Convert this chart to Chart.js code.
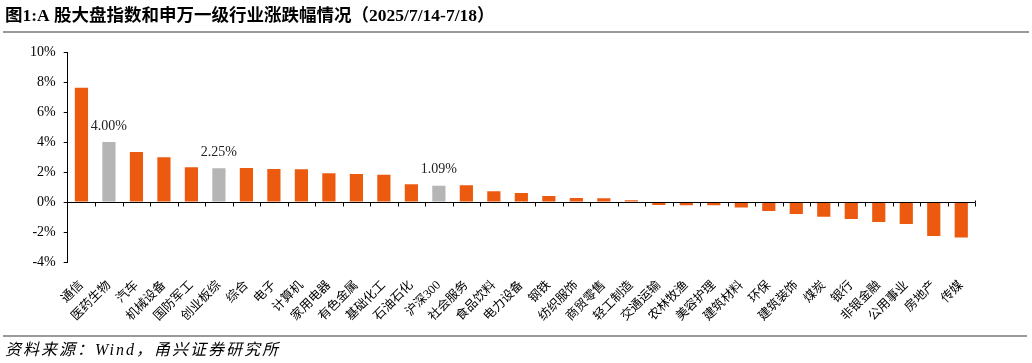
<!DOCTYPE html>
<html>
<head>
<meta charset="utf-8">
<script src="https://cdn.jsdelivr.net/npm/chart.js@4.4.1/dist/chart.umd.min.js"></script>
<style>
  html, body { margin: 0; padding: 0; background: #fff; }
  #wrap { position: relative; width: 1032px; height: 363px; }
  canvas { display: block; }
</style>
</head>
<body>
<div id="wrap"><canvas id="c" width="1032" height="363"></canvas></div>
<script>
const categories = ['通信','医药生物','汽车','机械设备','国防军工','创业板综','综合','电子','计算机','家用电器','有色金属','基础化工','石油石化','沪深300','社会服务','食品饮料','电力设备','钢铁','纺织服饰','商贸零售','轻工制造','交通运输','农林牧渔','美容护理','建筑材料','环保','建筑装饰','煤炭','银行','非银金融','公用事业','房地产','传媒'];
const changes = [7.62, 4.00, 3.33, 2.98, 2.31, 2.25, 2.27, 2.20, 2.18, 1.91, 1.87, 1.82, 1.18, 1.09, 1.11, 0.72, 0.60, 0.40, 0.27, 0.25, 0.11, -0.20, -0.22, -0.22, -0.36, -0.60, -0.80, -0.98, -1.13, -1.33, -1.47, -2.27, -2.36];
const indexCategories = ['医药生物','创业板综','沪深300'];
const yTicks = [-4, -2, 0, 2, 4, 6, 8, 10];
const titleText = '图1:A 股大盘指数和申万一级行业涨跌幅情况（2025/7/14-7/18）';
const sourceText = '资料来源：Wind，甬兴证券研究所';

const ORANGE = '#EC5A10';
const GREY = '#B5B5B5';
const SERIF = '"Liberation Serif", "Times New Roman", "Noto Sans CJK SC", serif';
const CJK = '"Liberation Serif", "Noto Sans CJK SC", sans-serif';

const colors = categories.map(c => indexCategories.includes(c) ? GREY : ORANGE);

const decorPlugin = {
  id: 'decor',
  afterDatasetsDraw(chart) {
    const ctx = chart.ctx;
    const y = chart.scales.y;
    const area = chart.chartArea;
    const y0 = Math.round(y.getPixelForValue(0)) + 0.5;
    ctx.save();
    ctx.strokeStyle = '#000';
    ctx.lineWidth = 1;
    ctx.beginPath();
    ctx.moveTo(area.left, y0);
    ctx.lineTo(area.right, y0);
    ctx.stroke();
    const n = categories.length;
    const step = (area.right - area.left) / n;
    ctx.beginPath();
    for (let i = 1; i <= n; i++) {
      const px = Math.round(area.left + step * i) + 0.5;
      ctx.moveTo(px, y0);
      ctx.lineTo(px, y0 + 4);
      if (i === n) { ctx.moveTo(px, y0 - 2); ctx.lineTo(px, y0); }
    }
    ctx.stroke();
    ctx.fillStyle = '#222';
    ctx.font = '14px ' + SERIF;
    ctx.textAlign = 'center';
    ctx.textBaseline = 'middle';
    const meta = chart.getDatasetMeta(0);
    categories.forEach((c, i) => {
      if (!indexCategories.includes(c)) return;
      const bar = meta.data[i];
      ctx.fillText(changes[i].toFixed(2) + '%', bar.x, bar.y - 16);
    });
    ctx.restore();
  },
  afterDraw(chart) {
    const ctx = chart.ctx;
    ctx.save();
    ctx.fillStyle = '#000';
    ctx.font = 'bold 17.5px ' + CJK;
    ctx.textAlign = 'left';
    ctx.textBaseline = 'middle';
    ctx.fillText(titleText, 5, 16);
    ctx.strokeStyle = '#9a9a9a';
    ctx.lineWidth = 2;
    ctx.beginPath();
    ctx.moveTo(3, 32); ctx.lineTo(1029, 32);
    ctx.moveTo(3, 336); ctx.lineTo(1027, 336);
    ctx.stroke();
    ctx.font = 'italic 16px ' + CJK;
    ctx.letterSpacing = '2px';
    ctx.fillStyle = '#000';
    ctx.fillText(sourceText, 5, 351);
    ctx.restore();
  }
};

new Chart(document.getElementById('c'), {
  type: 'bar',
  data: {
    labels: categories,
    datasets: [{
      data: changes,
      backgroundColor: colors,
      borderWidth: 0,
      categoryPercentage: 1.0,
      barPercentage: 0.48
    }]
  },
  options: {
    responsive: false,
    animation: false,
    devicePixelRatio: 1,
    layout: { padding: { top: 52, right: 57, left: 0, bottom: 0 } },
    plugins: { legend: { display: false }, tooltip: { enabled: false } },
    scales: {
      x: {
        grid: { display: false },
        border: { display: false },
        ticks: {
          autoSkip: false, minRotation: 45, maxRotation: 45,
          padding: 8, color: '#000',
          font: { family: CJK, size: 12.5 }
        },
        afterFit(scale) { scale.height = 101; }
      },
      y: {
        min: -4, max: 10,
        afterBuildTicks(scale) { scale.ticks = yTicks.map(v => ({ value: v })); },
        grid: { display: true, drawOnChartArea: false, drawTicks: true, tickLength: 4, color: '#000' },
        border: { display: true, color: '#000', width: 1 },
        ticks: {
          padding: 8, color: '#000',
          font: { family: SERIF, size: 14 },
          callback: v => v + '%'
        },
        afterFit(scale) { scale.width = 67.7; }
      }
    }
  },
  plugins: [decorPlugin]
});
</script>
</body>
</html>
